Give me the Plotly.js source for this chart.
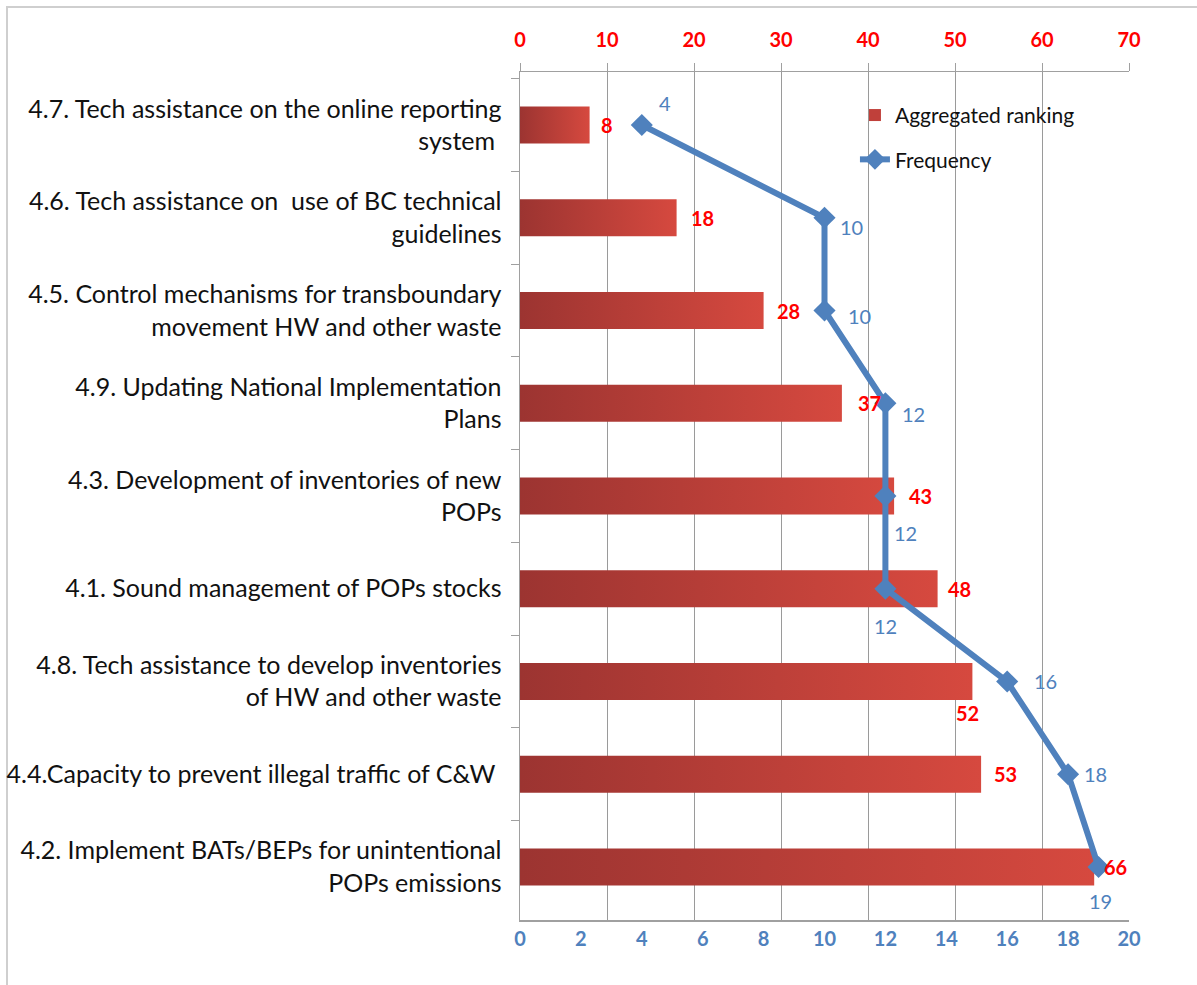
<!DOCTYPE html>
<html>
<head>
<meta charset="utf-8">
<script src="https://cdn.plot.ly/plotly-3.0.1.min.js"></script>
<style>
html,body{margin:0;padding:0;background:#fff;}
#frame{position:absolute;left:6px;top:6px;width:1300px;height:1100px;border-left:2px solid #cfcfcf;border-top:2px solid #cfcfcf;}
#chart{position:absolute;left:0;top:0;width:1197px;height:985px;}
</style>
</head>
<body>
<div id="frame"></div>
<div id="chart"></div>
<script>
const categories = [
  "4.7. Tech assistance on the online reporting<br>system ",
  "4.6. Tech assistance on  use of BC technical<br>guidelines",
  "4.5. Control mechanisms for transboundary<br>movement HW and other waste",
  "4.9. Updating National Implementation<br>Plans",
  "4.3. Development of inventories of new<br>POPs",
  "4.1. Sound management of POPs stocks",
  "4.8. Tech assistance to develop inventories<br>of HW and other waste",
  "4.4.Capacity to prevent illegal traffic of C&W ",
  "4.2. Implement BATs/BEPs for unintentional<br>POPs emissions"
];
const aggregatedRanking = [8, 18, 28, 37, 43, 48, 52, 53, 66];
const frequency = [4, 10, 10, 12, 12, 12, 16, 18, 19];
const rankingTicks = [0, 10, 20, 30, 40, 50, 60, 70];
const frequencyTicks = [0, 2, 4, 6, 8, 10, 12, 14, 16, 18, 20];

// label offsets (pixels) — styling only
const barLabelShift = [[17,0],[26,0],[25,0],[28,0],[26,0],[22,0],[-5,-32],[24,0],[21,0]];
const lineLabelShift = [[23,22],[27,-9],[35,-5],[28,-11],[20,-37],[0,-37],[38,0],[27,0],[2,-34]];

const RED = '#ff0000';
const BLUE = '#4f81bd';
const FONT = 'Lato, "Open Sans", sans-serif';

const traces = [
  {
    type: 'bar', orientation: 'h', name: 'Aggregated ranking',
    x: aggregatedRanking, y: categories, xaxis: 'x', yaxis: 'y',
    marker: {color: '#c0403a'},
    legendgroup: 'a', hoverinfo: 'x'
  },
  {
    type: 'scatter', mode: 'lines+markers', name: 'Frequency',
    x: frequency, y: categories, xaxis: 'x2', yaxis: 'y',
    line: {color: BLUE, width: 6},
    marker: {symbol: 'diamond', size: 17, color: BLUE},
    legendgroup: 'b', hoverinfo: 'x'
  }
];

const annotations = [];
aggregatedRanking.forEach((v, i) => {
  annotations.push({
    x: v, y: categories[i], xref: 'x', yref: 'y', text: String(v),
    showarrow: false, xshift: barLabelShift[i][0], yshift: barLabelShift[i][1],
    font: {family: FONT, size: 20, color: RED, weight: 'bold'}
  });
});
frequency.forEach((v, i) => {
  annotations.push({
    x: v, y: categories[i], xref: 'x2', yref: 'y', text: String(v),
    showarrow: false, xshift: lineLabelShift[i][0], yshift: lineLabelShift[i][1],
    font: {family: FONT, size: 20, color: BLUE}
  });
});

const layout = {
  width: 1197, height: 985,
  margin: {l: 520, r: 68, t: 72, b: 65},
  paper_bgcolor: 'rgba(0,0,0,0)', plot_bgcolor: 'rgba(0,0,0,0)',
  font: {family: FONT, color: '#111'},
  bargap: 0.6,
  showlegend: true,
  legend: {
    x: 0.55, y: 0.973, xanchor: 'left', yanchor: 'top',
    bgcolor: 'rgba(0,0,0,0)', traceorder: 'grouped', tracegroupgap: 14,
    font: {family: FONT, size: 21, color: '#111'}
  },
  xaxis: {
    side: 'top', range: [0, 70], tickvals: rankingTicks,
    showgrid: true, gridcolor: '#9a9a9a', gridwidth: 1,
    showline: true, linecolor: '#a0a0a0', linewidth: 1.5,
    ticks: 'outside', ticklen: 8, tickcolor: '#a0a0a0',
    ticklabelstandoff: 8,
    tickfont: {family: FONT, size: 20, color: RED, weight: 'bold'},
    zeroline: false, fixedrange: true
  },
  xaxis2: {
    overlaying: 'x', side: 'bottom', range: [0, 20], tickvals: frequencyTicks,
    showgrid: false, showline: true, linecolor: '#a0a0a0', linewidth: 1.5,
    ticks: '', tickfont: {family: FONT, size: 20, color: BLUE, weight: 'bold'},
    zeroline: false, fixedrange: true
  },
  yaxis: {
    autorange: 'reversed', type: 'category',
    showline: true, linecolor: '#a0a0a0', linewidth: 1.5,
    ticks: 'outside', tickson: 'boundaries', ticklen: 8, tickcolor: '#a0a0a0',
    ticklabelstandoff: 12,
    tickfont: {family: FONT, size: 25, color: '#111'},
    showgrid: false, fixedrange: true
  },
  annotations: annotations
};

Plotly.newPlot('chart', traces, layout, {displayModeBar: false, staticPlot: true}).then(gd => {
  const svg = gd.querySelector('svg.main-svg');
  const ns = 'http://www.w3.org/2000/svg';
  let defs = svg.querySelector('defs');
  if (!defs) { defs = document.createElementNS(ns, 'defs'); svg.insertBefore(defs, svg.firstChild); }
  const grad = document.createElementNS(ns, 'linearGradient');
  grad.setAttribute('id', 'barGrad');
  grad.setAttribute('x1', '0'); grad.setAttribute('x2', '1');
  grad.setAttribute('y1', '0'); grad.setAttribute('y2', '0');
  [['0%', '#9c3431'], ['100%', '#d6493f']].forEach(([o, c]) => {
    const s = document.createElementNS(ns, 'stop');
    s.setAttribute('offset', o); s.setAttribute('stop-color', c);
    grad.appendChild(s);
  });
  defs.appendChild(grad);
  gd.querySelectorAll('.barlayer .point path').forEach(p => {
    p.style.fill = 'url(#barGrad)';
  });
});
</script>
</body>
</html>
